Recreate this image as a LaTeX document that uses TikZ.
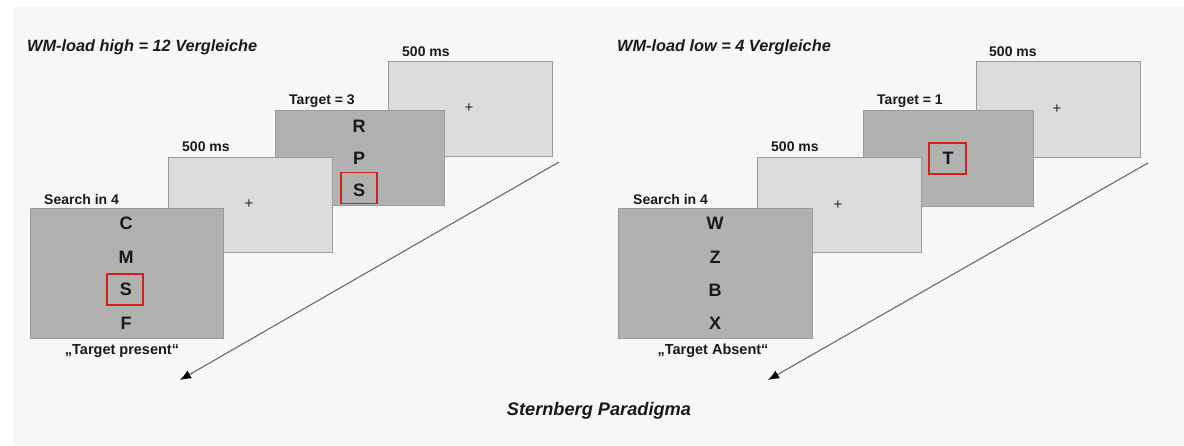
\documentclass[tikz,border=0pt]{standalone}
\usepackage{fontspec}
\setmainfont{Liberation Sans}
\usetikzlibrary{arrows.meta}
\definecolor{bgcol}{HTML}{F7F7F7}
\definecolor{lightfill}{HTML}{DCDCDC}
\definecolor{darkfill}{HTML}{B1B1B1}
\definecolor{boxline}{HTML}{9A9A9A}
\definecolor{redline}{HTML}{D02020}
\definecolor{arrowline}{HTML}{6A6A6A}
\tikzset{
  lightbox/.style={draw=boxline, fill=lightfill, line width=0.9pt, inner sep=0, minimum width=164pt, minimum height=95pt},
  darkbox/.style={draw=boxline, fill=darkfill, line width=0.9pt, inner sep=0},
  redbox/.style={draw=redline, line width=1.6pt, inner sep=0, minimum width=36pt, minimum height=31pt},
  lbl/.style={font=\bfseries\fontsize{14}{16}\selectfont, inner sep=0, anchor=base west, text=black!90},
  qlbl/.style={font=\bfseries\fontsize{14.5}{16}\selectfont, inner sep=0, anchor=base, text=black!90},
  letter/.style={font=\bfseries\fontsize{18}{20}\selectfont, inner sep=0, anchor=base, text=black!90},
  plus/.style={font=\fontsize{15}{16}\selectfont, inner sep=0, text=black!85},
  ttl/.style={font=\bfseries\itshape\fontsize{16.3}{18}\selectfont, inner sep=0, anchor=base west, text=black!90},
  flow/.style={draw=arrowline, line width=1.1pt, -{Latex[length=11pt,width=9pt,color=black]}}
}
\begin{document}
\begin{tikzpicture}[x=1pt,y=-1pt]
\useasboundingbox (0,0) rectangle (1184,446);
\fill[white] (0,0) rectangle (1184,446);
\fill[bgcol] (13,7) rectangle (1184,445);

% ---------------- left panel ----------------
\node[ttl] (titleL) at (27,52) {WM-load high = 12 Vergleiche};

\node[lightbox] (L4) at (470,108.5) {};
\node[lbl] (L4lab) at (402,57) {500 ms};
\node[plus] (L4plus) at (469,108) {+};

\node[darkbox, minimum width=169pt, minimum height=95pt] (L3) at (359.5,157.5) {};
\node[lbl] (L3lab) at (289,105) {Target = 3};
\node[letter] (L3R) at (359,132.5) {R};
\node[letter] (L3P) at (359,164.5) {P};
\node[redbox] (L3box) at (359,188) {};
\node[letter] (L3S) at (359,196.5) {S};

\node[lightbox] (L2) at (250,204.5) {};
\node[lbl] (L2lab) at (182,152) {500 ms};
\node[plus] (L2plus) at (249,204) {+};

\node[darkbox, minimum width=193pt, minimum height=130pt] (L1) at (126.5,273) {};
\node[lbl] (L1lab) at (44,205) {Search in 4};
\node[letter] (L1C) at (126,229.5) {C};
\node[letter] (L1M) at (126,263.5) {M};
\node[redbox] (L1box) at (125,289.5) {};
\node[letter] (L1S) at (126,295.5) {S};
\node[letter] (L1F) at (126,329.5) {F};
\node[qlbl] (L1q) at (122,354.5) {„Target present“};

\coordinate (LA) at (559,162);
\coordinate (LB) at (180,380);
\draw[flow] (LA) -- (LB);

% ---------------- right panel ----------------
\node[ttl] (titleR) at (617,52) {WM-load low = 4 Vergleiche};

\node[lightbox, minimum height=96pt] (R4) at (1058,109) {};
\node[lbl] (R4lab) at (989,57) {500 ms};
\node[plus] (R4plus) at (1057,109) {+};

\node[darkbox, minimum width=170pt, minimum height=96pt] (R3) at (948,158) {};
\node[lbl] (R3lab) at (877,105) {Target = 1};
\node[redbox, minimum width=37pt] (R3box) at (947.5,158.5) {};
\node[letter] (R3T) at (948,164.5) {T};

\node[lightbox] (R2) at (839,204.5) {};
\node[lbl] (R2lab) at (771,152) {500 ms};
\node[plus] (R2plus) at (838,205) {+};

\node[darkbox, minimum width=194pt, minimum height=130pt] (R1) at (715,273) {};
\node[lbl] (R1lab) at (633,205) {Search in 4};
\node[letter] (R1W) at (715,229.5) {W};
\node[letter] (R1Z) at (715,263.5) {Z};
\node[letter] (R1B) at (715,296.5) {B};
\node[letter] (R1X) at (715,329.5) {X};
\node[qlbl] (R1q) at (713,354.5) {„Target Absent“};

\coordinate (RA) at (1148,163);
\coordinate (RB) at (768,380);
\draw[flow] (RA) -- (RB);

% ---------------- caption ----------------
\node[font=\bfseries\itshape\fontsize{18.2}{20}\selectfont, inner sep=0, anchor=base, text=black!90] (caption) at (599,415.5) {Sternberg Paradigma};
\end{tikzpicture}
\end{document}
